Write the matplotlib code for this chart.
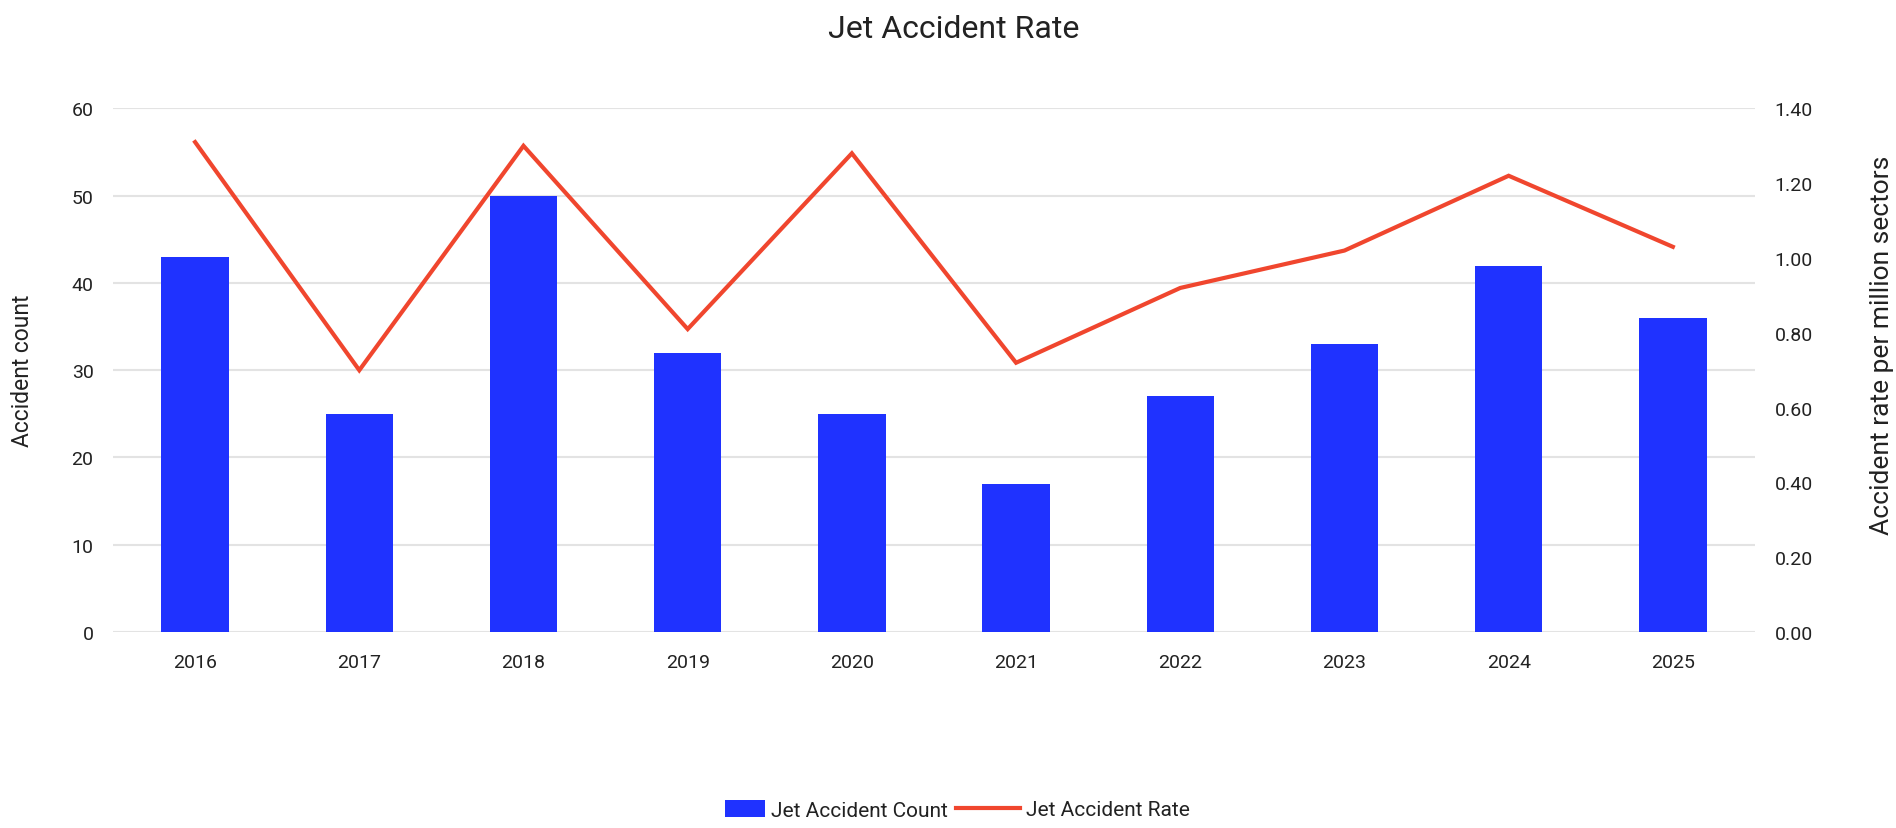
import matplotlib
matplotlib.use("Agg")
import matplotlib.pyplot as plt
from matplotlib.ticker import FormatStrFormatter

plt.rcParams['font.family'] = ['Roboto', 'DejaVu Sans']

years = ['2016', '2017', '2018', '2019', '2020', '2021', '2022', '2023', '2024', '2025']
accident_count = [43, 25, 50, 32, 25, 17, 27, 33, 42, 36]
accident_rate = [1.31, 0.70, 1.30, 0.81, 1.28, 0.72, 0.92, 1.02, 1.22, 1.03]

bar_color = '#1f32ff'
line_color = '#f0462e'
text_color = '#222222'
grid_color = '#e3e3e3'

fig = plt.figure(figsize=(18.96, 8.29), dpi=100)
ax = fig.add_axes([0.0596, 0.2364, 0.866, 0.6316])
ax2 = ax.twinx()

x = list(range(len(years)))
bars = ax.bar(x, accident_count, width=0.41, color=bar_color, zorder=2,
              label='Jet Accident Count')
line, = ax2.plot(x, accident_rate, color=line_color, linewidth=3,
                 solid_joinstyle='miter', label='Jet Accident Rate', zorder=3)

ax.set_xlim(-0.5, len(years) - 0.5)
ax.set_ylim(0, 60)
ax.set_yticks(range(0, 61, 10))
ax2.set_ylim(0, 1.4)
ax2.set_yticks([i * 0.2 for i in range(8)])
ax2.yaxis.set_major_formatter(FormatStrFormatter('%.2f'))

ax.set_xticks(x)
ax.set_xticklabels(years)

ax.yaxis.grid(True, color=grid_color, linewidth=1.5, zorder=0)
ax.set_axisbelow(True)

for a in (ax, ax2):
    for s in a.spines.values():
        s.set_visible(False)
    a.tick_params(length=0, labelsize=14, colors=text_color)
ax.tick_params(axis='y', pad=14)
ax.tick_params(axis='x', pad=15)
ax2.tick_params(axis='y', pad=14)

ax.set_ylabel('Accident count', fontsize=16.5, color=text_color, labelpad=27)
ax2.set_ylabel('Accident rate per million sectors', fontsize=19,
               color=text_color, labelpad=41)
ax2.yaxis.label.set_y(0.55)

fig.suptitle('Jet Accident Rate', fontsize=23, color=text_color, x=0.503, y=0.982)

# two separate legends so each handle can keep its own length
leg1 = fig.legend(handles=[bars], loc='center left', bbox_to_anchor=(0.3825, 0.022),
                  frameon=False, fontsize=15, handlelength=1.9, handleheight=0.9,
                  handletextpad=0.3, borderpad=0, borderaxespad=0,
                  labelcolor=text_color)
leg2 = fig.legend(handles=[line], loc='center left', bbox_to_anchor=(0.504, 0.022),
                  frameon=False, fontsize=15, handlelength=3.1,
                  handletextpad=0.3, borderpad=0, borderaxespad=0,
                  labelcolor=text_color)

fig.savefig('out.png', dpi=100)
